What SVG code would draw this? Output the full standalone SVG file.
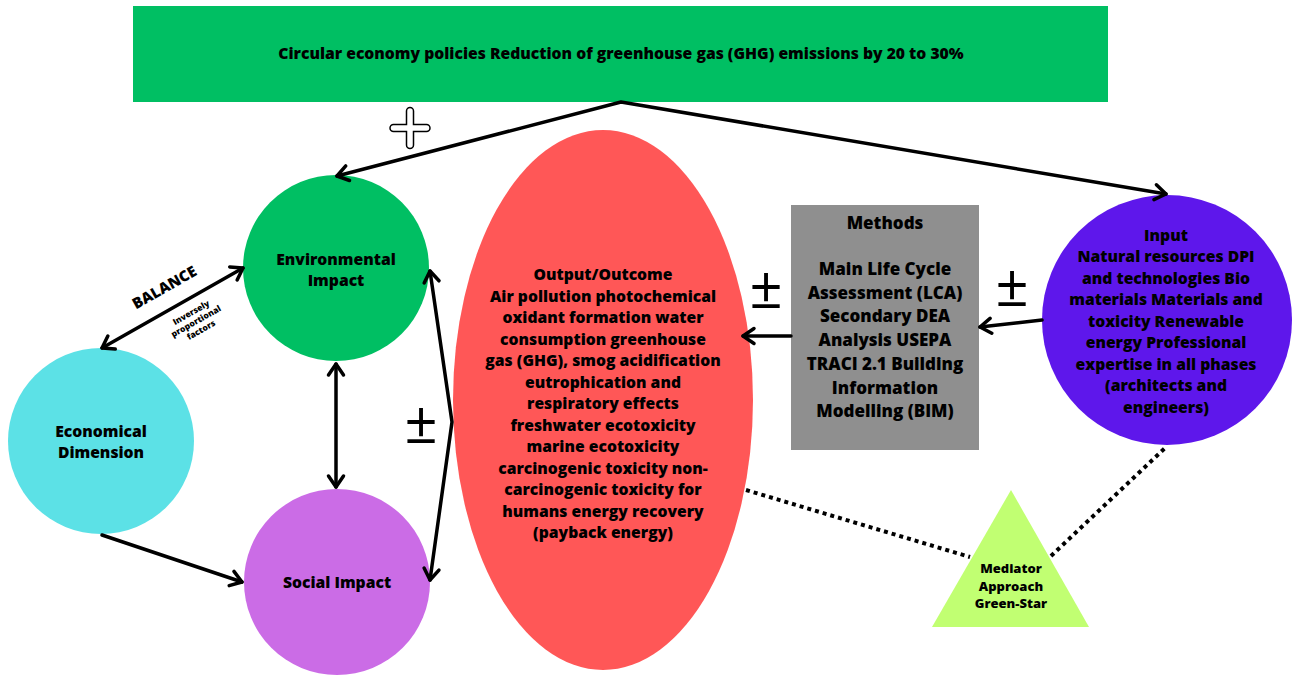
<svg xmlns="http://www.w3.org/2000/svg" width="1293" height="675" viewBox="0 0 1293 675">
  <defs>
    <marker id="chev" markerUnits="userSpaceOnUse" markerWidth="20" markerHeight="20" viewBox="-14 -10 20 20" refX="0" refY="0" orient="auto-start-reverse">
      <path d="M -11 -7.5 L 0 0 L -11 7.5" fill="none" stroke="#000" stroke-width="3.5" stroke-linecap="round" stroke-linejoin="round"/>
    </marker>
    <style>
      text { font-family: "Open Sans", "Liberation Sans", sans-serif; font-weight: 800; fill: #000; text-anchor: middle; }
      .top { font-size: 15.7px; }
      .body { font-size: 15.7px; }
      .meth { font-size: 17px; }
      .circ { font-size: 15.7px; }
      .t13 { font-size: 13px; }
      .pm { font-size: 58px; font-weight: 500; }
      .link { fill: none; stroke: #000; stroke-width: 3.5; stroke-linecap: round; stroke-linejoin: round; }
      .dots { fill: none; stroke: #000; stroke-width: 4; stroke-dasharray: 4 4; }
    </style>
  </defs>

  <rect width="1293" height="675" fill="#fff"/>

  <!-- policy banner -->
  <g id="policies">
    <rect x="133" y="6" width="975" height="96" fill="#00BF63"/>
    <text class="top" x="621" y="59">Circular economy policies Reduction of greenhouse gas (GHG) emissions by 20 to 30%</text>
  </g>

  <g id="environmental">
    <circle cx="336" cy="268" r="93" fill="#00BF63"/>
    <text class="circ" x="336" y="265">Environmental</text>
    <text class="circ" x="336" y="286">Impact</text>
  </g>

  <g id="economical">
    <circle cx="101" cy="441" r="93" fill="#5CE1E6"/>
    <text class="circ" x="101" y="437">Economical</text>
    <text class="circ" x="101" y="458">Dimension</text>
  </g>

  <g id="social">
    <circle cx="337" cy="582" r="93" fill="#CB6CE6"/>
    <text class="circ" x="337" y="588">Social Impact</text>
  </g>

  <g id="output">
    <ellipse cx="603" cy="400" rx="150" ry="270" fill="#FF5757"/>
    <g class="body">
      <text x="603" y="280">Output/Outcome</text>
      <text x="603" y="301.5">Air pollution photochemical</text>
      <text x="603" y="323">oxidant formation water</text>
      <text x="603" y="344.5">consumption greenhouse</text>
      <text x="603" y="366">gas (GHG), smog acidification</text>
      <text x="603" y="387.5">eutrophication and</text>
      <text x="603" y="409">respiratory effects</text>
      <text x="603" y="430.5">freshwater ecotoxicity</text>
      <text x="603" y="452">marine ecotoxicity</text>
      <text x="603" y="473.5">carcinogenic toxicity non-</text>
      <text x="603" y="495">carcinogenic toxicity for</text>
      <text x="603" y="516.5">humans energy recovery</text>
      <text x="603" y="538">(payback energy)</text>
    </g>
  </g>

  <g id="methods">
    <rect x="791" y="205" width="188" height="245" fill="#8F8F8F"/>
    <g class="meth">
      <text x="885" y="229">Methods</text>
      <text x="885" y="275">Main Life Cycle</text>
      <text x="885" y="298.7">Assessment (LCA)</text>
      <text x="885" y="322.4">Secondary DEA</text>
      <text x="885" y="346.1">Analysis USEPA</text>
      <text x="885" y="369.8">TRACI 2.1 Building</text>
      <text x="885" y="393.5">Information</text>
      <text x="885" y="417.2">Modelling (BIM)</text>
    </g>
  </g>

  <g id="input">
    <circle cx="1167" cy="320" r="125" fill="#5E17EB"/>
    <g class="body">
      <text x="1166" y="240.5">Input</text>
      <text x="1166" y="262">Natural resources DPI</text>
      <text x="1166" y="283.5">and technologies Bio</text>
      <text x="1166" y="305">materials Materials and</text>
      <text x="1166" y="326.5">toxicity Renewable</text>
      <text x="1166" y="348">energy Professional</text>
      <text x="1166" y="369.5">expertise in all phases</text>
      <text x="1166" y="391">(architects and</text>
      <text x="1166" y="412.5">engineers)</text>
    </g>
  </g>

  <g id="mediator">
    <polygon points="1011,490 1089,627 932,627" fill="#C1FF72"/>
    <g class="t13">
      <text x="1011" y="572.5">Mediator</text>
      <text x="1011" y="590.5">Approach</text>
      <text x="1011" y="608">Green-Star</text>
    </g>
  </g>

  <!-- connectors -->
  <g id="connectors">
    <polyline class="link" points="337,176 621,102 1166,194" marker-start="url(#chev)" marker-end="url(#chev)"/>
    <line class="link" x1="102" y1="348" x2="243" y2="268" marker-start="url(#chev)" marker-end="url(#chev)"/>
    <line class="link" x1="336" y1="364" x2="336" y2="487" marker-start="url(#chev)" marker-end="url(#chev)"/>
    <polyline class="link" points="430,271 452,422 430,580" marker-start="url(#chev)" marker-end="url(#chev)"/>
    <line class="link" x1="791" y1="336" x2="743" y2="336" marker-end="url(#chev)"/>
    <line class="link" x1="1042" y1="320" x2="980" y2="327" marker-end="url(#chev)"/>
    <line class="link" x1="102" y1="535" x2="242" y2="582" marker-end="url(#chev)"/>
    <line class="dots" x1="746" y1="490" x2="970" y2="557"/>
    <line class="dots" x1="1051" y1="556" x2="1165" y2="448"/>
  </g>

  <!-- relation labels -->
  <g id="labels">
    <path d="M 406.5 111 a 3.5 3.5 0 0 1 7 0 V 124.5 H 426.5 a 3.5 3.5 0 0 1 0 7 H 413.5 V 145 a 3.5 3.5 0 0 1 -7 0 V 131.5 H 393.5 a 3.5 3.5 0 0 1 0 -7 H 406.5 Z" fill="#fff" stroke="#000" stroke-width="1.5"/>
    <text class="pm" x="421" y="443">±</text>
    <text class="pm" x="766" y="308">±</text>
    <text class="pm" x="1012" y="306">±</text>
    <text transform="translate(167,292) rotate(-29.5)" font-size="15">BALANCE</text>
    <g transform="translate(197,323) rotate(-29.5)" font-size="8.5">
      <text x="0" y="-9">Inversely</text>
      <text x="0" y="1">proportional</text>
      <text x="0" y="11">factors</text>
    </g>
  </g>
</svg>
